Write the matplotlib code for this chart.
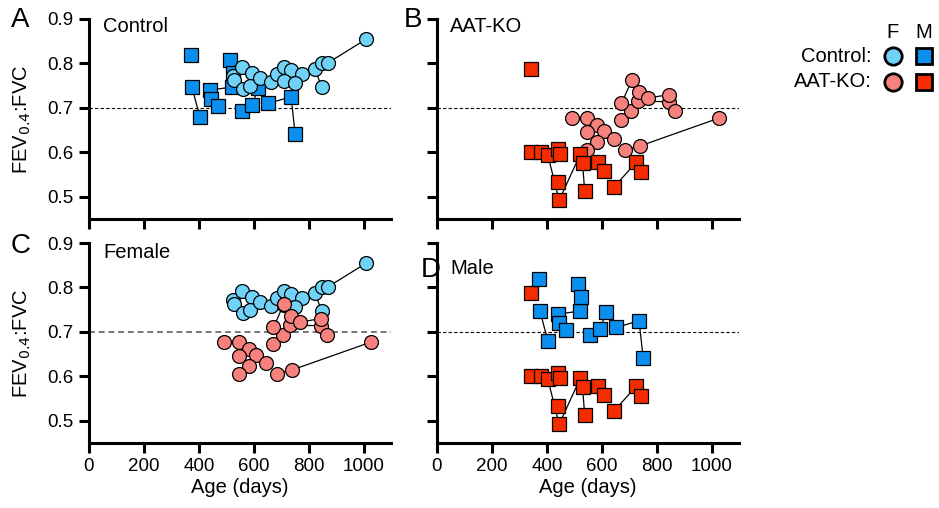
"""FEV0.4:FVC by age for control and AAT-KO mice, split by genotype and by sex."""
import matplotlib.pyplot as plt
from matplotlib.lines import Line2D

plt.rcParams["font.family"] = ["Liberation Sans", "DejaVu Sans"]

# --- data: one id per animal, repeated measures share an id ---
ctrl_f_id = [1, 1, 1, 2, 2, 2, 3, 3, 3, 4, 4, 4, 5, 5, 6, 6, 7, 7, 7]
ctrl_f_age = [526, 558, 593, 528, 562, 587, 623, 662, 686, 712, 736, 775,
              712, 750, 823, 847, 847, 872, 1008]
ctrl_f_fev = [0.772, 0.793, 0.779, 0.763, 0.743, 0.749, 0.767, 0.759, 0.776,
              0.792, 0.785, 0.777, 0.761, 0.757, 0.788, 0.747, 0.802, 0.802, 0.854]

ctrl_m_id = [1, 2, 2, 3, 3, 4, 4, 5, 5, 6, 6, 6, 7, 7, 7]
ctrl_m_age = [372, 375, 404, 441, 521, 444, 470, 515, 525, 556, 594, 617, 653, 736, 751]
ctrl_m_fev = [0.819, 0.747, 0.679, 0.740, 0.747, 0.719, 0.704, 0.807, 0.778,
              0.693, 0.707, 0.745, 0.710, 0.725, 0.641]

ko_f_id = [1, 1, 1, 1, 1, 2, 2, 3, 4, 4, 4, 5, 5, 5, 5, 5, 6, 6, 6, 6, 6]
ko_f_age = [493, 546, 581, 608, 644, 546, 581, 546, 684, 738, 1027,
            672, 706, 733, 845, 867, 672, 709, 736, 769, 845]
ko_f_fev = [0.677, 0.677, 0.661, 0.649, 0.629, 0.645, 0.624, 0.605, 0.606, 0.614, 0.677,
            0.672, 0.694, 0.715, 0.714, 0.694, 0.710, 0.762, 0.736, 0.722, 0.730]

ko_m_id = [1, 2, 3, 4, 4, 4, 5, 6, 7, 8, 8, 9, 9, 10, 10, 10]
ko_m_age = [341, 344, 377, 404, 445, 522, 441, 449, 441, 530, 538, 587, 608, 645, 726, 742]
ko_m_fev = [0.787, 0.601, 0.600, 0.593, 0.492, 0.596, 0.608, 0.596, 0.534,
            0.576, 0.513, 0.579, 0.558, 0.522, 0.578, 0.556]

C_CTRL_F = "#70d2f7"
C_CTRL_M = "#0a8fef"
C_KO_F = "#f7817c"
C_KO_M = "#f52c00"

W, H = 939, 508


def draw_group(ax, ids, ages, vals, marker, color, z):
    groups = {}
    for i, a, v in zip(ids, ages, vals):
        groups.setdefault(i, []).append((a, v))
    for pts in groups.values():
        xs = [p[0] for p in pts]
        ys = [p[1] for p in pts]
        if len(pts) > 1:
            ax.plot(xs, ys, color="black", lw=0.9, zorder=z)
        ax.plot(xs, ys, ls="none", marker=marker, ms=10, mfc=color,
                mec="black", mew=0.9, zorder=z + 0.5)


def style(ax, xlabels, ylabels, dash_color="black", dash_lw=0.8):
    ax.set_xlim(0, 1100)
    ax.set_ylim(0.45, 0.9)
    ax.set_xticks([0, 200, 400, 600, 800, 1000])
    ax.set_yticks([0.5, 0.6, 0.7, 0.8, 0.9])
    ax.axhline(0.7, color=dash_color, lw=dash_lw, ls=(0, (3, 2)), zorder=0)
    for s in ("top", "right"):
        ax.spines[s].set_visible(False)
    for s in ("left", "bottom"):
        ax.spines[s].set_linewidth(2.2)
    ax.tick_params(width=2.2, length=7, labelsize=13.5, pad=4)
    if not xlabels:
        ax.tick_params(axis="x", labelbottom=False)
    else:
        ax.set_xlabel("Age (days)", fontsize=14.5, labelpad=2)
    if not ylabels:
        ax.tick_params(axis="y", labelleft=False)
    else:
        ax.set_ylabel("FEV$_{0.4}$:FVC", fontsize=14.5)
        ax.yaxis.set_label_coords(-0.185, 0.5)


fig = plt.figure(figsize=(W / 100, H / 100), dpi=100)


def add_ax(x0, y0, x1, y1):
    return fig.add_axes([x0 / W, 1 - y1 / H, (x1 - x0) / W, (y1 - y0) / H])


axA = add_ax(89, 19, 391, 219)
axB = add_ax(437, 19, 739, 219)
axC = add_ax(89, 243, 391, 443)
axD = add_ax(437, 243, 739, 443)

# A: control, B: AAT-KO
draw_group(axA, ctrl_m_id, ctrl_m_age, ctrl_m_fev, "s", C_CTRL_M, 2)
draw_group(axA, ctrl_f_id, ctrl_f_age, ctrl_f_fev, "o", C_CTRL_F, 3)
draw_group(axB, ko_f_id, ko_f_age, ko_f_fev, "o", C_KO_F, 2)
draw_group(axB, ko_m_id, ko_m_age, ko_m_fev, "s", C_KO_M, 3)
# C: female, D: male
draw_group(axC, ctrl_f_id, ctrl_f_age, ctrl_f_fev, "o", C_CTRL_F, 2)
draw_group(axC, ko_f_id, ko_f_age, ko_f_fev, "o", C_KO_F, 3)
draw_group(axD, ko_m_id, ko_m_age, ko_m_fev, "s", C_KO_M, 2)
draw_group(axD, ctrl_m_id, ctrl_m_age, ctrl_m_fev, "s", C_CTRL_M, 3)

style(axA, False, True)
style(axB, False, False)
style(axC, True, True, dash_color="#777777", dash_lw=1.4)
style(axD, True, False)

# panel letters and titles
for letter, x, y in [("A", 11, 7), ("B", 404, 7), ("C", 11, 233), ("D", 421, 257)]:
    fig.text(x / W, 1 - y / H, letter, fontsize=20, va="top", ha="left")
for title, x, y in [("Control", 103, 27), ("AAT-KO", 450, 27),
                    ("Female", 103, 252), ("Male", 450, 268)]:
    fig.text(x / W, 1 - y / H, title, fontsize=14.5, va="center", ha="left")

# legend
fig.text(893 / W, 1 - 33 / H, "F", fontsize=14.5, ha="center", va="center")
fig.text(924 / W, 1 - 33 / H, "M", fontsize=14.5, ha="center", va="center")
for label, y, cf, cm in [("Control:", 56, C_CTRL_F, C_CTRL_M),
                         ("AAT-KO:", 82, C_KO_F, C_KO_M)]:
    fig.text(872 / W, 1 - y / H, label, fontsize=14.5, ha="right", va="center")
    fig.add_artist(Line2D([893 / W], [1 - y / H], transform=fig.transFigure,
                          marker="o", ms=12.5, mfc=cf, mec="black", mew=2, ls="none"))
    fig.add_artist(Line2D([924 / W], [1 - y / H], transform=fig.transFigure,
                          marker="s", ms=12, mfc=cm, mec="black", mew=2, ls="none"))

fig.savefig("out.png", dpi=100)
